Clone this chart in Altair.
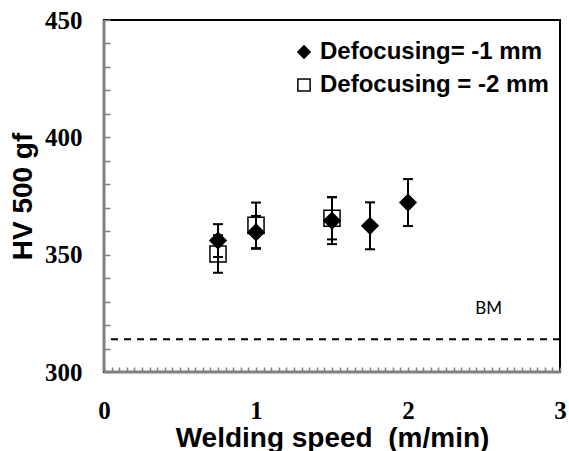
import altair as alt
import pandas as pd
import numpy as np

# ---- data ----
series_labels = ["Defocusing= -1 mm", "Defocusing = -2 mm"]
speed_1 = [0.75, 1.0, 1.5, 1.75, 2.0]
hv_1 = [356.0, 359.5, 364.5, 362.3, 372.2]
err_1 = [7.0, 7.0, 10.0, 10.0, 10.0]
speed_2 = [0.75, 1.0, 1.5]
hv_2 = [350.3, 362.5, 365.5]
err_2 = [8.0, 9.7, 9.0]
bm_level = [314]
bm_text = ["BM"]
bm_text_x = [2.53]
bm_text_y = [327]

rows = []
for s, xs, ys, es in [(series_labels[0], speed_1, hv_1, err_1),
                      (series_labels[1], speed_2, hv_2, err_2)]:
    for x, y, e in zip(xs, ys, es):
        rows.append({"series": s, "speed": x, "hv": y, "lo": y - e, "hi": y + e})
df = pd.DataFrame(rows)
bm_df = pd.DataFrame({"level": bm_level})
bm_lab = pd.DataFrame({"t": bm_text, "x": bm_text_x, "y": bm_text_y})

x_tick_vals = np.round(np.arange(0, 3.0001, 0.05), 2).tolist()
y_tick_vals = list(range(300, 451, 10))

xscale = alt.Scale(domain=[0, 3], nice=False, zero=False)
yscale = alt.Scale(domain=[300, 450], nice=False, zero=False)

x_axis = alt.Axis(
    values=x_tick_vals, tickCount=200,
    labelExpr="datum.value % 1 == 0 ? format(datum.value, 'd') : ''",
    offset=-5, tickSize=5, tickColor="#808080", tickWidth=1.5,
    domain=False, grid=False, labelOverlap=False, labelFlush=False,
    labelFont="Liberation Serif", labelFontWeight="bold", labelFontSize=25,
    labelColor="black", labelPadding=26,
    title="Welding speed\u00a0 (m/min)", titleFont="Liberation Sans",
    titleFontWeight="bold", titleFontSize=28, titleColor="black",
    titleY=71, titleBaseline="middle",
)
y_axis = alt.Axis(
    values=y_tick_vals, tickCount=200,
    labelExpr="datum.value % 50 == 0 ? datum.label : ''",
    offset=-6, tickSize=6, tickColor="#808080", tickWidth=1.5,
    domain=False, grid=False, labelOverlap=False, labelFlush=False,
    labelFont="Liberation Serif", labelFontWeight="bold", labelFontSize=25,
    labelColor="black", labelPadding=22,
    title="HV 500 gf", titleFont="Liberation Sans",
    titleFontWeight="bold", titleFontSize=28, titleColor="black",
    titleX=-87, titleY=176, titleAngle=270, titleBaseline="middle",
)

base = alt.Chart(df)

axes_layer = base.mark_point(opacity=0).encode(
    x=alt.X("speed:Q", scale=xscale, axis=x_axis),
    y=alt.Y("hv:Q", scale=yscale, axis=y_axis),
)

left_line = alt.Chart(bm_df).mark_rule(color="#808080", strokeWidth=3).encode(
    x=alt.datum(0, scale=xscale))
bottom_line = alt.Chart(bm_df).mark_rule(color="#808080", strokeWidth=3).encode(
    y=alt.datum(300, scale=yscale))

bm_rule = alt.Chart(bm_df).mark_rule(color="black", strokeWidth=2, strokeDash=[7, 6]).encode(
    y=alt.Y("level:Q", scale=yscale))
bm_label = alt.Chart(bm_lab).mark_text(font="Lato", fontSize=17, color="black").encode(
    x=alt.X("x:Q", scale=xscale), y=alt.Y("y:Q", scale=yscale), text="t:N")

err_rule = base.mark_rule(color="black", strokeWidth=2).encode(
    x=alt.X("speed:Q", scale=xscale),
    y=alt.Y("lo:Q", scale=yscale), y2="hi:Q")
cap_lo = base.mark_tick(color="black", size=10, thickness=2, orient="horizontal", opacity=1).encode(
    x=alt.X("speed:Q", scale=xscale), y=alt.Y("lo:Q", scale=yscale))
cap_hi = base.mark_tick(color="black", size=10, thickness=2, orient="horizontal", opacity=1).encode(
    x=alt.X("speed:Q", scale=xscale), y=alt.Y("hi:Q", scale=yscale))

legend_def = alt.Legend(title=None, symbolStrokeColor="black", symbolStrokeWidth=1.5)

points = base.mark_point(filled=True, strokeWidth=1.5, opacity=1, size=260).encode(
    x=alt.X("speed:Q", scale=xscale),
    y=alt.Y("hv:Q", scale=yscale),
    shape=alt.Shape("series:N", scale=alt.Scale(domain=series_labels, range=["diamond", "square"]),
                    legend=legend_def),
    fill=alt.Fill("series:N", scale=alt.Scale(domain=series_labels, range=["black", "transparent"]),
                  legend=legend_def),
    stroke=alt.Stroke("series:N", scale=alt.Scale(domain=series_labels, range=["black", "black"]),
                      legend=legend_def),
)

chart = alt.layer(
    axes_layer, bm_rule, bm_label, err_rule, cap_lo, cap_hi, points, left_line, bottom_line
).properties(
    width=456, height=352,
    autosize=alt.AutoSizeParams(type="none"),
    padding={"left": 104, "top": 20, "right": 9, "bottom": 79},
    background="white",
).configure_view(
    stroke="black", strokeWidth=2
).configure_legend(
    orient="none", legendX=188, legendY=20, padding=0, strokeColor="transparent",
    labelFont="Liberation Sans", labelFontWeight="bold", labelFontSize=24, labelColor="black",
    labelOffset=4, rowPadding=9, symbolSize=150, symbolStrokeWidth=1.5,
    labelLimit=400,
)

chart.save("out.html", embed_options={"renderer": "svg", "actions": False})
